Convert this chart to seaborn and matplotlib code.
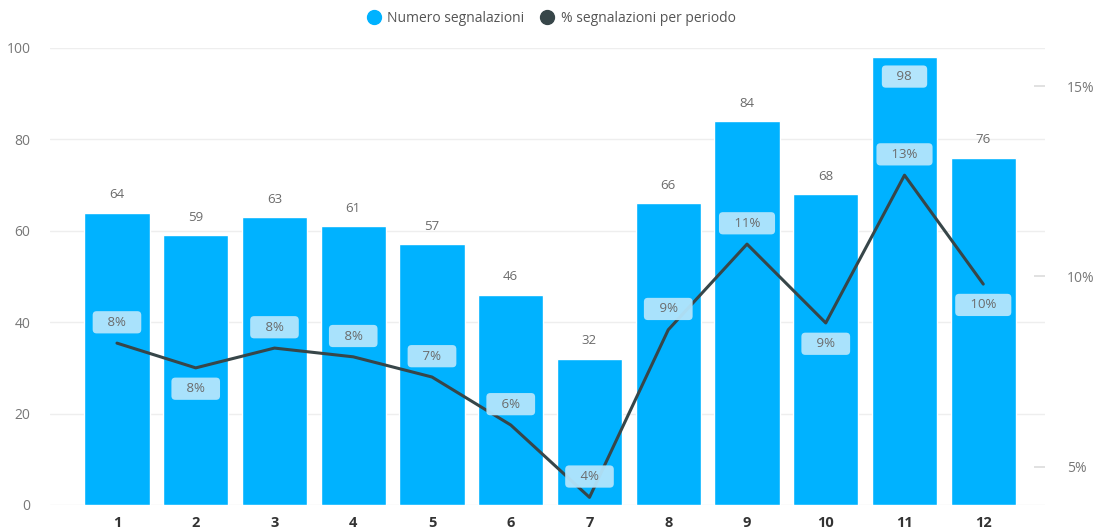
import numpy as np
import pandas as pd
import seaborn as sns
import matplotlib.pyplot as plt
from matplotlib.lines import Line2D

# Data
periodi = ["1", "2", "3", "4", "5", "6", "7", "8", "9", "10", "11", "12"]
numero = [64, 59, 63, 61, 57, 46, 32, 66, 84, 68, 98, 76]
percentuale = [8.25, 7.6, 8.12, 7.89, 7.36, 6.1, 4.2, 8.6, 10.85, 8.78, 12.66, 9.8]

# Label placement for the % boxes (1 = above the point, -1 = below)
label_side = [1, -1, 1, 1, 1, 1, 1, 1, 1, -1, 1, -1]

bar_color = "#00B2FF"
line_color = "#374649"
box_color = "#B3E5FC"
text_color = "#6b6b6b"

sns.set_theme(style="white")
plt.rcParams["font.family"] = ["Open Sans", "DejaVu Sans"]

df = pd.DataFrame({"periodo": periodi, "numero": numero, "perc": percentuale})

fig = plt.figure(figsize=(11.02, 5.32), dpi=100)
ax = fig.add_axes([0.0454, 0.0508, 0.9026, 0.859])

sns.barplot(data=df, x="periodo", y="numero", color=bar_color, saturation=1,
            width=0.83, ax=ax)
ax.set_ylim(0, 100)
ax.set_xlim(-0.85, 11.78)
ax.set_yticks([0, 20, 40, 60, 80, 100])
ax.yaxis.grid(True, color="#eeeeee", linewidth=1)
ax.set_axisbelow(True)
ax.set_xlabel("")
ax.set_ylabel("")
for s in ax.spines.values():
    s.set_visible(False)
ax.tick_params(axis="y", length=0, pad=14, labelsize=10, labelcolor="#777777")
ax.tick_params(axis="x", length=0, pad=8, labelsize=10.5, labelcolor="#333333")
for t in ax.get_xticklabels():
    t.set_fontweight("bold")

# Bar value labels
for i, v in enumerate(numero):
    if v >= 95:
        ax.annotate(f"   {v}   ", (i, v), xytext=(0, -14), textcoords="offset points",
                    ha="center", va="center", fontsize=9.5, color=text_color,
                    bbox=dict(boxstyle="round,pad=0.35,rounding_size=0.3",
                              fc=box_color, ec="none"))
    else:
        ax.annotate(str(v), (i, v), xytext=(0, 13), textcoords="offset points",
                    ha="center", va="center", fontsize=9.5, color=text_color)

# Secondary axis with percentage line
ax2 = ax.twinx()
sns.lineplot(x=np.arange(len(periodi)), y=percentuale, color=line_color,
             linewidth=2.2, ax=ax2)
ax2.set_ylim(4.0, 16.0)
ax2.set_yticks([5, 10, 15])
ax2.set_yticklabels(["5%", "10%", "15%"])
for s in ax2.spines.values():
    s.set_visible(False)
ax2.tick_params(axis="y", direction="in", length=8, color="#dddddd", pad=16,
                labelsize=10, labelcolor="#777777")
ax2.set_xlim(-0.85, 11.78)

for i, p in enumerate(percentuale):
    ax2.annotate(f"   {round(p):.0f}%   ", (i, p), xytext=(0, 15 * label_side[i]),
                 textcoords="offset points", ha="center", va="center",
                 fontsize=9.5, color=text_color, zorder=5,
                 bbox=dict(boxstyle="round,pad=0.35,rounding_size=0.3",
                           fc=box_color, ec="none", alpha=0.95))

# Legend at top
handles = [
    Line2D([], [], marker="o", linestyle="", markersize=10, color=bar_color),
    Line2D([], [], marker="o", linestyle="", markersize=10, color=line_color),
]
fig.legend(handles, ["Numero segnalazioni", "% segnalazioni per periodo"],
           loc="center", bbox_to_anchor=(0.497, 0.965), ncol=2, frameon=False,
           fontsize=10, handletextpad=0.0, columnspacing=0.6,
           labelcolor="#555555")

fig.savefig("out.png", dpi=100)
plt.close()
